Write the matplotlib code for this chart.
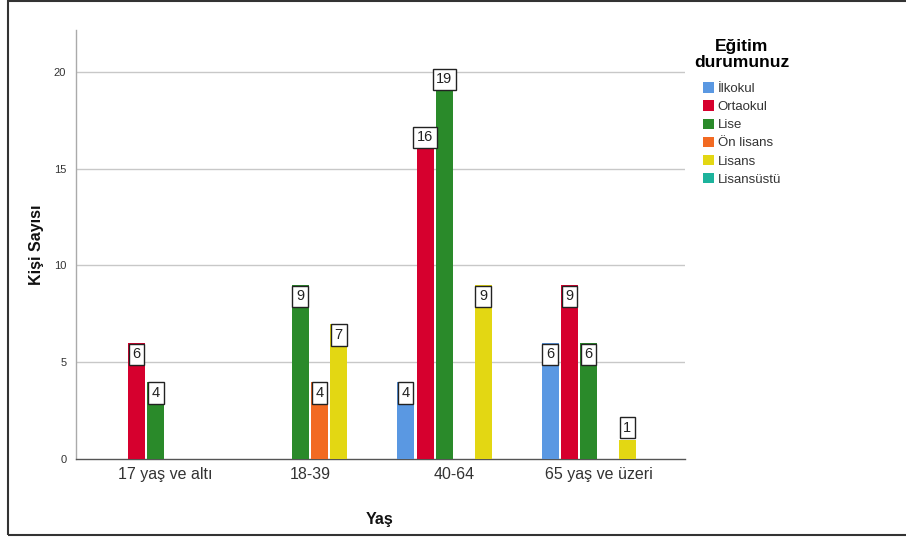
import matplotlib
matplotlib.use("Agg")
import matplotlib.pyplot as plt
from matplotlib.patches import Rectangle, Patch
import numpy as np

plt.rcParams['font.family'] = ['Liberation Sans', 'DejaVu Sans']

categories = ["17 yaş ve altı", "18-39", "40-64", "65 yaş ve üzeri"]
series_names = ["İlkokul", "Ortaokul", "Lise", "Ön lisans", "Lisans", "Lisansüstü"]
ilkokul    = [0, 0, 4, 6]
ortaokul   = [6, 0, 16, 9]
lise       = [4, 9, 19, 6]
on_lisans  = [0, 4, 0, 0]
lisans     = [0, 7, 9, 1]
lisansustu = [0, 0, 0, 0]
series_values = [ilkokul, ortaokul, lise, on_lisans, lisans, lisansustu]
colors = ["#5A98E2", "#D6002E", "#2A8A2A", "#F26A22", "#E3D713", "#1DB39C"]
yticks = [0, 5, 10, 15, 20]

W, H = 906, 539
fig = plt.figure(figsize=(W / 100, H / 100), dpi=100)
fig.patch.set_facecolor("white")

# outer frame
fig.add_artist(Rectangle((8 / W, 1 - 535 / H), (W + 20) / W, (534) / H,
                         transform=fig.transFigure, fill=False,
                         edgecolor="#333333", linewidth=1.5, clip_on=False))

ax = fig.add_axes([76 / W, 1 - 459 / H, (685 - 76) / W, (459 - 30) / H])
x = np.arange(len(categories))
slot = 0.134
bw = 0.118
n = len(series_names)
fs_lab = 10.5
pad = 0.25
for i, (vals, c) in enumerate(zip(series_values, colors)):
    xs = x + (i - (n - 1) / 2) * slot
    ax.bar(xs, vals, width=bw, color=c, zorder=3)
    for xx, v in zip(xs, vals):
        if v <= 0:
            continue
        above = v >= 15 or v < 2
        off = pad * fs_lab + 1.0
        ax.annotate(str(v), (xx, v), xytext=(0, off if above else -off + 0.5),
                    textcoords="offset points", ha="center",
                    va="bottom" if above else "top", fontsize=fs_lab,
                    color="#222222", zorder=5,
                    bbox=dict(boxstyle=f"square,pad={pad}", facecolor="white",
                              edgecolor="#222222", linewidth=1.0))

ax.set_xlim(-0.62, 3.6)
ax.set_ylim(0, 22.17)
ax.set_yticks(yticks)
ax.set_yticklabels([str(t) for t in yticks], fontsize=8, color="#333333")
ax.set_xticks(x)
ax.set_xticklabels(categories, fontsize=11.5, color="#333333")
ax.tick_params(axis="both", length=0)
ax.tick_params(axis="y", pad=7)
ax.tick_params(axis="x", pad=6)
for t in yticks[1:]:
    ax.axhline(t, color="#C8C8C8", linewidth=1.0, zorder=1)
for s in ["top", "right"]:
    ax.spines[s].set_visible(False)
ax.spines["left"].set_color("#AAAAAA")
ax.spines["bottom"].set_color("#555555")
ax.spines["left"].set_linewidth(1.0)
ax.spines["bottom"].set_linewidth(1.0)

ax.set_ylabel("Kişi Sayısı", fontsize=11.5, fontweight="bold", color="#111111")
ax.yaxis.set_label_coords(-(76 - 44) / 609, 0.5)
ax.set_xlabel("Yaş", fontsize=11.5, fontweight="bold", color="#111111")
ax.xaxis.set_label_coords((380 - 76) / 609, -(512 - 459) / 429)

handles = [Patch(facecolor=c, edgecolor="none") for c in colors]
leg = fig.legend(handles, series_names, loc="upper center",
                 bbox_to_anchor=(742 / W, 1 - 30 / H), frameon=False,
                 title="Eğitim\ndurumunuz", fontsize=9.5,
                 title_fontproperties={"weight": "bold", "size": 12.5},
                 handlelength=0.85, handleheight=0.85, handletextpad=0.25,
                 labelspacing=0.4, borderpad=0.2, alignment="center")
leg.get_title().set_multialignment("center")
leg.get_title().set_linespacing(1.05)
leg._legend_box.sep = 9
for t in leg.get_texts():
    t.set_color("#333333")

fig.savefig("out.png", dpi=100)
